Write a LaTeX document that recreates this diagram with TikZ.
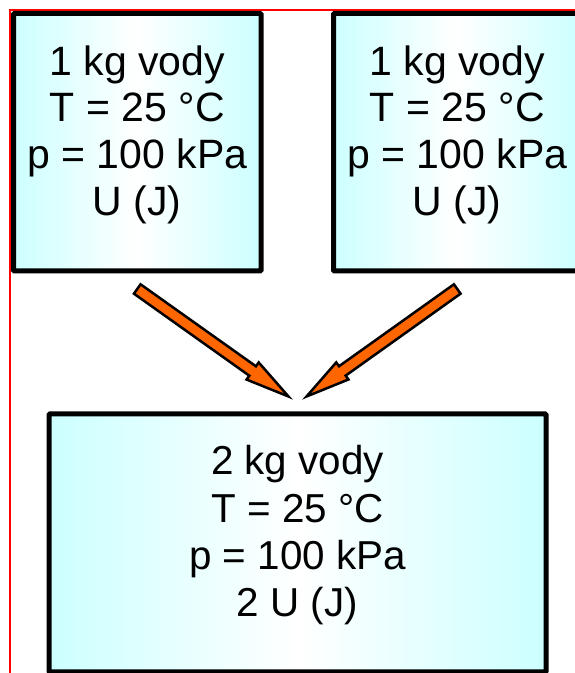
\documentclass[tikz,border=0pt]{standalone}
\usepackage{fontspec}
\setmainfont{Liberation Sans}
\usetikzlibrary{calc,positioning}
\definecolor{boxcyan}{RGB}{204,255,255}
\definecolor{arroworange}{RGB}{255,102,0}
% block arrow from #1 to #2
\newcommand{\blockarrow}[2]{%
 \draw[bigarrow] let \p1=($(#2)-(#1)$), \n1={atan2(\y1,\x1)}, \n2={veclen(\x1,\y1)} in
  ($(#1)+(\n1+90:5.75)$) -- ($(#1)+(\n1:\n2-44)+(\n1+90:5.75)$)
  -- ($(#1)+(\n1:\n2-44)+(\n1+90:10.5)$) -- (#2)
  -- ($(#1)+(\n1:\n2-44)+(\n1-90:10.5)$) -- ($(#1)+(\n1:\n2-44)+(\n1-90:5.75)$)
  -- ($(#1)+(\n1-90:5.75)$) -- cycle;}

\begin{document}
\begin{tikzpicture}[x=1pt,y=1pt,
 box/.style={draw,line width=5pt,rounded corners=1pt,outer sep=0pt,inner sep=0pt,
  align=center,left color=boxcyan,right color=boxcyan,middle color=white,text depth=24pt},
 big/.style={font=\fontsize{41}{46.7}\selectfont},
 small/.style={font=\fontsize{40.4}{47.2}\selectfont},
 bigarrow/.style={draw,line width=2.5pt,fill=arroworange,miter limit=20}]
\clip (0,0) rectangle (575,673);
\draw[red,line width=2pt] (10,0)--(10,663)--(575,663);
\node[box,big,minimum width=247.5pt,minimum height=257.5pt] (one) at (137.25,530.75)
 {1 kg vody\\T = 25 °C\\p = 100 kPa\\U (J)};
\node[box,big,minimum width=247.5pt,minimum height=257.5pt] (two) at (457.25,530.75)
 {1 kg vody\\T = 25 °C\\p = 100 kPa\\U (J)};
\node[box,small,minimum width=497pt,minimum height=258pt] (three) at (297.5,130)
 {2 kg vody\\T = 25 °C\\p = 100 kPa\\2 U (J)};
\coordinate (tail1) at ([yshift=-18pt]one.south);
\coordinate (tail2) at ([yshift=-18pt]two.south);
\coordinate (tip1) at ([xshift=-9pt,yshift=17.5pt]three.north);
\coordinate (tip2) at ([xshift=9pt,yshift=17.5pt]three.north);
\blockarrow{tail1}{tip1}
\blockarrow{tail2}{tip2}
\end{tikzpicture}
\end{document}
